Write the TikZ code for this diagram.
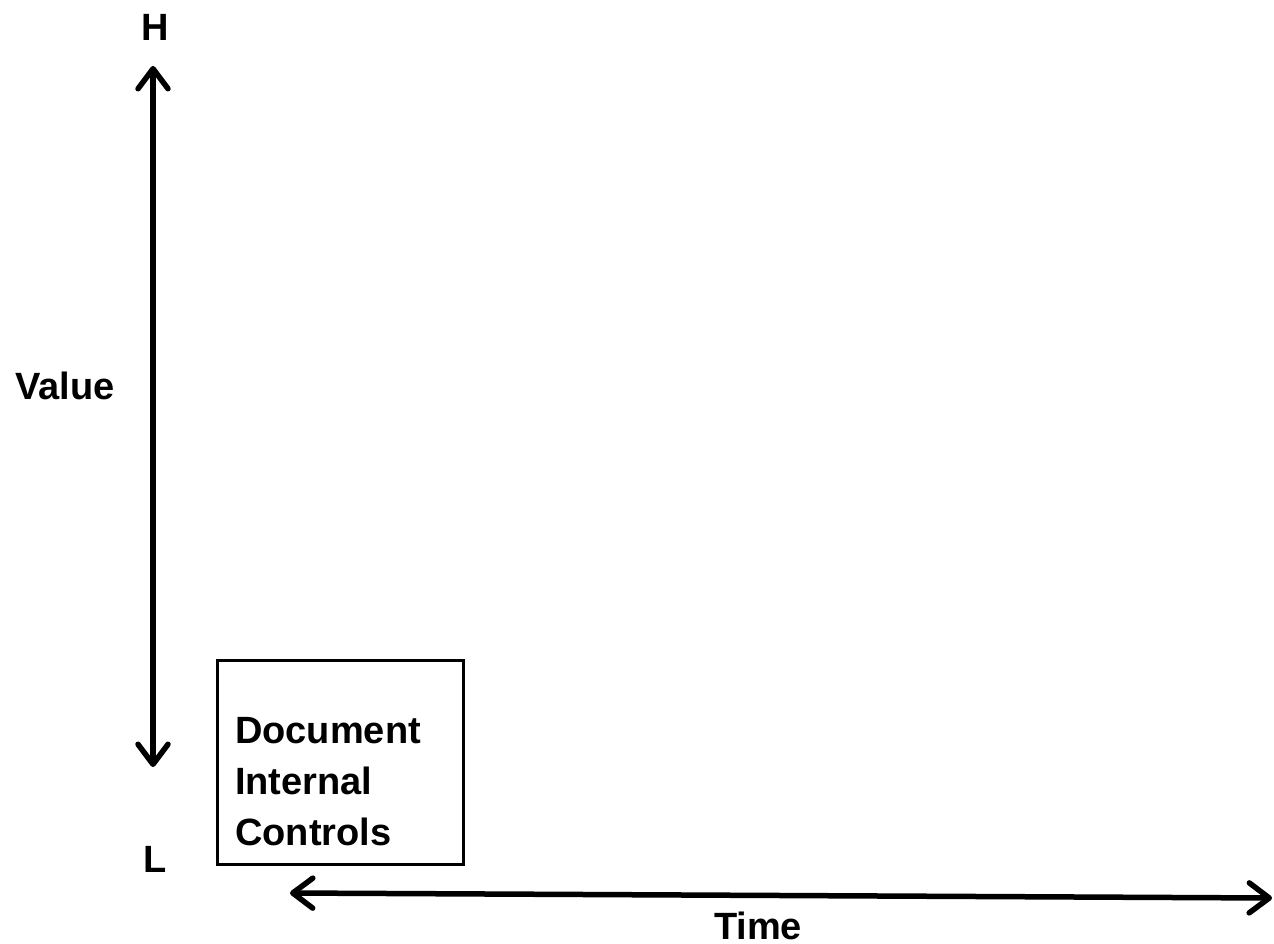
\documentclass[tikz,border=0pt]{standalone}
\usepackage{fontspec}
\setmainfont{Liberation Sans}
\usetikzlibrary{arrows.meta}
\begin{document}
\begin{tikzpicture}[x=1pt,y=-1pt,
  lbl/.style={font=\fontsize{38}{51}\selectfont\bfseries, inner sep=0pt},
  axis/.style={line width=5.5pt, {Straight Barb[length=20pt,width=30pt,round,line width=5.5pt]}-{Straight Barb[length=20pt,width=30pt,round,line width=5.5pt]}},
  notebox/.style={draw, line width=3pt, minimum width=246pt, minimum height=204pt, inner sep=0pt}]
\useasboundingbox (0,0) rectangle (1274,944);
\fill[white] (0,0) rectangle (1274,944);
% value axis
\coordinate (vtop) at (153,66);
\coordinate (vbot) at (153,767);
\draw[axis] (vtop) -- (vbot);
\node[lbl] (hi) at (155,27) {H};
\node[lbl] (lo) at (155,859) {L};
\node[lbl] (val) at (65,386) {Value};
% time axis
\coordinate (tleft) at (290,893);
\coordinate (tright) at (1272,898);
\draw[axis] (tleft) -- (tright);
\node[lbl] (time) at (758,926) {Time};
% note box
\node[notebox] (box) at (340,762) {};
\node[lbl, anchor=north west, align=left] (boxtext) at (235,717) {Document\\Internal\\Controls};
\end{tikzpicture}
\end{document}
